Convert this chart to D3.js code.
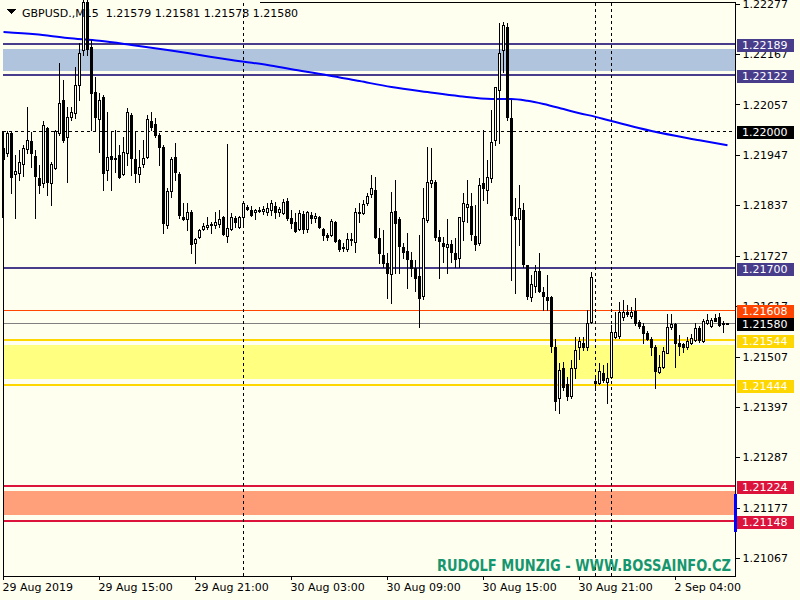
<!DOCTYPE html>
<html><head><meta charset="utf-8">
<script src="https://cdn.jsdelivr.net/npm/d3@7"></script>
<style>
html,body{margin:0;padding:0;background:#FFFFF0;}
svg{display:block;}
text{font-family:"DejaVu Sans",Verdana,sans-serif;}
</style></head><body>
<svg id="chart" width="800" height="600"></svg>
<script>
const titleSymbol = "GBPUSD.,M15";
const lastQuote = [1.21579, 1.21581, 1.21578, 1.21580];

const opens = [1.21938,1.21951,1.21994,1.21905,1.21907,1.21927,1.21959,1.21977,1.21945,1.21897,
1.21885,1.22006,1.21885,1.21919,1.21994,1.22067,1.21986,1.22030,1.22038,1.22099,
1.22176,1.22281,1.22183,1.22085,1.22025,1.22074,1.21914,1.21945,1.21941,1.21947,
1.21905,1.21951,1.22034,1.21938,1.21905,1.21927,1.21943,1.22021,1.22014,1.21990,
1.21964,1.21794,1.21868,1.21943,1.21905,1.21812,1.21807,1.21823,1.21754,1.21768,
1.21785,1.21790,1.21796,1.21794,1.21796,1.21812,1.21770,1.21785,1.21810,1.21790,
1.21812,1.21833,1.21827,1.21823,1.21827,1.21825,1.21823,1.21827,1.21835,1.21823,
1.21820,1.21846,1.21810,1.21801,1.21785,1.21818,1.21785,1.21816,1.21810,1.21812,
1.21785,1.21772,1.21772,1.21801,1.21761,1.21746,1.21741,1.21761,1.21757,1.21820,
1.21820,1.21841,1.21861,1.21870,1.21766,1.21728,1.21711,1.21687,1.21825,1.21807,
1.21746,1.21737,1.21718,1.21700,1.21683,1.21639,1.21805,1.21885,1.21888,1.21768,
1.21754,1.21746,1.21752,1.21732,1.21722,1.21803,1.21833,1.21835,1.21770,1.21754,
1.21885,1.21870,1.21897,1.21979,1.22089,1.22176,1.22226,1.22028,1.21812,1.21807,
1.21827,1.21707,1.21637,1.21661,1.21694,1.21648,1.21637,1.21637,1.21528,1.21417,
1.21482,1.21447,1.21421,1.21482,1.21528,1.21537,1.21528,1.21582,1.21454,1.21450,
1.21471,1.21452,1.21463,1.21550,1.21552,1.21593,1.21604,1.21595,1.21606,1.21582,
1.21574,1.21558,1.21545,1.21528,1.21473,1.21484,1.21515,1.21572,1.21578,1.21537,
1.21534,1.21528,1.21537,1.21543,1.21569,1.21541,1.21580,1.21574,1.21591,1.21593,
1.21580,1.21579];
const highs = [1.21966,1.21999,1.21999,1.21947,1.21958,1.21968,1.22052,1.21997,1.21958,1.21925,
1.22021,1.22008,1.21932,1.22001,1.22147,1.22110,1.22052,1.22052,1.22139,1.22191,
1.22296,1.22296,1.22198,1.22117,1.22082,1.22078,1.22041,1.21997,1.22001,1.21968,
1.21986,1.22050,1.22038,1.21997,1.21958,1.21979,1.22034,1.22041,1.22028,1.21994,
1.21968,1.21875,1.21943,1.21972,1.21910,1.21841,1.21841,1.21827,1.21766,1.21785,
1.21798,1.21812,1.21801,1.21823,1.21827,1.21814,1.21970,1.21821,1.21814,1.21814,
1.21844,1.21837,1.21835,1.21829,1.21833,1.21835,1.21841,1.21848,1.21844,1.21833,
1.21850,1.21853,1.21827,1.21820,1.21827,1.21825,1.21825,1.21823,1.21820,1.21814,
1.21788,1.21776,1.21807,1.21803,1.21763,1.21754,1.21776,1.21776,1.21831,1.21841,
1.21848,1.21863,1.21903,1.21899,1.21788,1.21783,1.21732,1.21866,1.21892,1.21812,
1.21754,1.21776,1.21735,1.21718,1.21772,1.21874,1.21964,1.21962,1.21892,1.21783,
1.21768,1.21807,1.21761,1.21766,1.21812,1.21863,1.21892,1.21863,1.21837,1.21897,
1.22001,1.21936,1.22045,1.22095,1.22235,1.22237,1.22235,1.22067,1.21853,1.21881,
1.21841,1.21707,1.21685,1.21707,1.21732,1.21659,1.21685,1.21639,1.21545,1.21493,
1.21495,1.21463,1.21499,1.21550,1.21550,1.21550,1.21608,1.21691,1.21467,1.21493,
1.21489,1.21493,1.21576,1.21604,1.21626,1.21630,1.21619,1.21615,1.21635,1.21587,
1.21580,1.21563,1.21550,1.21532,1.21510,1.21528,1.21600,1.21600,1.21580,1.21554,
1.21537,1.21550,1.21556,1.21580,1.21574,1.21589,1.21600,1.21591,1.21600,1.21602,
1.21585,1.21581];
const lows = [1.21925,1.21945,1.21863,1.21810,1.21892,1.21901,1.21951,1.21921,1.21810,1.21863,
1.21877,1.21859,1.21837,1.21917,1.21990,1.21975,1.21888,1.22023,1.22028,1.22067,
1.22165,1.22165,1.22001,1.22001,1.21954,1.21870,1.21892,1.21870,1.21910,1.21897,
1.21903,1.21925,1.21903,1.21888,1.21888,1.21921,1.21941,1.22001,1.21986,1.21925,
1.21776,1.21788,1.21855,1.21892,1.21810,1.21805,1.21783,1.21732,1.21711,1.21766,
1.21783,1.21785,1.21776,1.21788,1.21790,1.21772,1.21757,1.21783,1.21790,1.21788,
1.21792,1.21827,1.21814,1.21807,1.21823,1.21818,1.21816,1.21816,1.21810,1.21814,
1.21819,1.21805,1.21788,1.21779,1.21783,1.21776,1.21779,1.21798,1.21801,1.21788,
1.21761,1.21761,1.21770,1.21757,1.21737,1.21737,1.21737,1.21750,1.21735,1.21801,
1.21818,1.21837,1.21855,1.21766,1.21711,1.21702,1.21635,1.21624,1.21689,1.21689,
1.21722,1.21657,1.21683,1.21650,1.21572,1.21632,1.21801,1.21877,1.21761,1.21678,
1.21713,1.21689,1.21713,1.21702,1.21702,1.21761,1.21801,1.21761,1.21739,1.21750,
1.21848,1.21841,1.21888,1.21968,1.21973,1.22128,1.22023,1.21674,1.21646,1.21750,
1.21702,1.21632,1.21628,1.21648,1.21648,1.21608,1.21608,1.21517,1.21390,1.21384,
1.21434,1.21412,1.21417,1.21460,1.21502,1.21521,1.21521,1.21580,1.21434,1.21447,
1.21452,1.21406,1.21460,1.21548,1.21548,1.21587,1.21595,1.21591,1.21576,1.21569,
1.21537,1.21543,1.21510,1.21439,1.21471,1.21482,1.21515,1.21567,1.21484,1.21510,
1.21517,1.21524,1.21534,1.21541,1.21539,1.21539,1.21578,1.21572,1.21584,1.21574,
1.21561,1.21578];
const closes = [1.21962,1.21994,1.21899,1.21912,1.21932,1.21962,1.21979,1.21951,1.21901,1.21881,
1.22012,1.21888,1.21927,1.21999,1.22060,1.21979,1.22030,1.22041,1.22099,1.22169,
1.22281,1.22178,1.22082,1.22030,1.22067,1.21907,1.21943,1.21938,1.21940,1.21899,
1.21954,1.22041,1.21941,1.21907,1.21921,1.21941,1.22025,1.22008,1.21990,1.21964,
1.21798,1.21868,1.21938,1.21910,1.21816,1.21807,1.21823,1.21752,1.21763,1.21783,
1.21792,1.21794,1.21793,1.21801,1.21807,1.21774,1.21788,1.21812,1.21801,1.21812,
1.21841,1.21829,1.21816,1.21827,1.21826,1.21829,1.21831,1.21841,1.21823,1.21829,
1.21844,1.21810,1.21798,1.21781,1.21820,1.21785,1.21823,1.21810,1.21814,1.21790,
1.21772,1.21768,1.21803,1.21759,1.21741,1.21744,1.21763,1.21763,1.21823,1.21823,
1.21839,1.21857,1.21874,1.21768,1.21732,1.21711,1.21689,1.21823,1.21798,1.21748,
1.21735,1.21720,1.21700,1.21678,1.21635,1.21810,1.21888,1.21892,1.21768,1.21759,
1.21748,1.21752,1.21735,1.21720,1.21812,1.21841,1.21839,1.21774,1.21752,1.21881,
1.21874,1.21899,1.21975,1.22095,1.22169,1.22231,1.22030,1.21816,1.21807,1.21831,
1.21709,1.21639,1.21665,1.21694,1.21650,1.21639,1.21630,1.21530,1.21410,1.21478,
1.21441,1.21421,1.21482,1.21521,1.21541,1.21528,1.21580,1.21680,1.21450,1.21476,
1.21456,1.21460,1.21561,1.21561,1.21604,1.21604,1.21600,1.21604,1.21580,1.21574,
1.21558,1.21545,1.21528,1.21476,1.21484,1.21519,1.21572,1.21578,1.21537,1.21530,
1.21528,1.21541,1.21548,1.21569,1.21543,1.21584,1.21587,1.21587,1.21585,1.21576,
1.21578,1.21580];

const timeTickIndex = [0, 24, 48, 72, 96, 120, 144, 168];
const timeTickLabels = ["29 Aug 2019","29 Aug 15:00","29 Aug 21:00","30 Aug 03:00","30 Aug 09:00","30 Aug 15:00","30 Aug 21:00","2 Sep 04:00"];
const priceTicks = [1.22277,1.22167,1.22057,1.21947,1.21837,1.21727,1.21617,1.21507,1.21397,1.21287,1.21177,1.21067];
const daySeparators = [60, 148, 152];

const maIndex  = [0, 8, 16, 24, 32, 41, 49, 57, 66, 72, 81, 89, 97, 106, 114, 122, 127, 131, 135, 140, 144, 148, 151, 162, 174, 181];
const maValues = [1.22215,1.22210,1.22202,1.22196,1.22187,1.22176,1.22165,1.22154,1.22143,1.22134,1.22121,1.22108,1.22095,1.22084,1.22075,1.22069,1.22069,1.22065,1.22058,1.22047,1.22038,1.22030,1.22023,1.21999,1.21979,1.21968];

const levelPrices = [1.22189, 1.22122, 1.22000, 1.21700, 1.21608, 1.21580, 1.21544, 1.21444, 1.21224, 1.21148];
const levelKinds  = ["zone", "zone", "round", "zone", "resist", "bid", "gold", "gold", "crimson", "crimson"];
const bandTop    = [1.22177, 1.21532, 1.21213];
const bandBottom = [1.22130, 1.21458, 1.21162];
const bandKinds  = ["blue", "yellow", "salmon"];
const spreadBar = [1.21207, 1.21124];
const watermark = "RUDOLF MUNZIG - WWW.BOSSAINFO.CZ";

// ---- styles ----
const BG = "#FFFFF0";
const lineStyle = {
  zone:    {color:"#483D8B", width:2, dash:null, label:"#483D8B"},
  round:   {color:"#000000", width:1, dash:"3,3", label:"#000000"},
  resist:  {color:"#FF4500", width:1, dash:null, label:"#FF4500"},
  bid:     {color:"#808080", width:1, dash:null, label:"#000000"},
  gold:    {color:"#FFD700", width:2, dash:null, label:"#FFD700"},
  crimson: {color:"#DC143C", width:2, dash:null, label:"#DC143C"}
};
const bandColor = {blue:"#B0C4DE", yellow:"#FFFF80", salmon:"#FFA07A"};

const W = 800, H = 600;
const plotLeft = 3, plotRight = 735, plotBottom = 576;
const x = d3.scaleLinear().domain([0, 181]).range([3, 727]);
const y = d3.scaleLinear().domain([1.21028, 1.22285]).range([576, 0]);
const py = p => Math.round(y(p));

const svg = d3.select("#chart").attr("shape-rendering", "crispEdges");
svg.append("rect").attr("width", W).attr("height", H).attr("fill", BG);
svg.append("defs").append("clipPath").attr("id", "clip")
  .append("rect").attr("x", plotLeft).attr("y", 0).attr("width", plotRight - plotLeft).attr("height", plotBottom);

const plot = svg.append("g").attr("clip-path", "url(#clip)");

// bands
bandKinds.forEach((k, i) => {
  plot.append("rect").attr("x", plotLeft).attr("width", plotRight - plotLeft)
    .attr("y", py(bandTop[i])).attr("height", py(bandBottom[i]) - py(bandTop[i]))
    .attr("fill", bandColor[k]);
});

// horizontal levels
levelPrices.forEach((p, i) => {
  const s = lineStyle[levelKinds[i]];
  const yy = s.width % 2 ? py(p) + 0.5 : py(p);
  plot.append("line").attr("x1", plotLeft).attr("x2", plotRight).attr("y1", yy).attr("y2", yy)
    .attr("stroke", s.color).attr("stroke-width", s.width).attr("stroke-dasharray", s.dash);
});

// day separators
daySeparators.forEach(i => {
  plot.append("line").attr("x1", x(i) + 0.5).attr("x2", x(i) + 0.5).attr("y1", 3).attr("y2", plotBottom)
    .attr("stroke", "#000").attr("stroke-dasharray", "3,3");
});

// title
svg.append("path").attr("d", "M7,9 L16,9 L11.5,14 Z").attr("fill", "#000");
svg.append("text").attr("x", 22).attr("y", 17).attr("font-size", 11).attr("fill", "#000")
  .style("white-space", "pre")
  .text(titleSymbol + "  " + lastQuote.map(d3.format(".5f")).join(" "));

// moving average
plot.append("path").datum(maIndex.map((d, i) => [d, maValues[i]]))
  .attr("d", d3.line().x(d => x(d[0]) + 0.5).y(d => y(d[1])).curve(d3.curveMonotoneX))
  .attr("fill", "none").attr("stroke", "#0000FF").attr("stroke-width", 2)
  .attr("shape-rendering", "auto");

// candles
const candles = opens.map((o, i) => ({i, o, h: highs[i], l: lows[i], c: closes[i]}));
const cg = plot.append("g");
candles.forEach(d => {
  const cx = x(d.i) + 0.5;
  cg.append("line").attr("x1", cx).attr("x2", cx).attr("y1", py(d.h)).attr("y2", py(d.l) + 1)
    .attr("stroke", "#000");
  const top = py(Math.max(d.o, d.c)), bot = py(Math.min(d.o, d.c));
  cg.append("rect").attr("x", cx - 1).attr("width", 2)
    .attr("y", top + 0.5).attr("height", Math.max(bot - top, 1))
    .attr("fill", d.c >= d.o ? BG : "#000").attr("stroke", "#000");
});

// frame
svg.append("line").attr("x1", plotRight + 0.5).attr("x2", plotRight + 0.5).attr("y1", 2).attr("y2", plotBottom + 1).attr("stroke", "#000");
svg.append("line").attr("x1", plotLeft).attr("x2", plotRight + 1).attr("y1", plotBottom + 0.5).attr("y2", plotBottom + 0.5).attr("stroke", "#000");
svg.append("line").attr("x1", 260).attr("x2", plotRight + 1).attr("y1", 2.5).attr("y2", 2.5).attr("stroke", "#000");
svg.append("line").attr("x1", 3.5).attr("x2", 3.5).attr("y1", py(1.22000)).attr("y2", plotBottom).attr("stroke", "#000");
svg.append("line").attr("x1", 3).attr("x2", 3).attr("y1", py(1.22000)).attr("y2", py(1.21810)).attr("stroke", "#000").attr("stroke-width", 2);

// price axis
const ya = svg.append("g").attr("transform", `translate(${plotRight + 0.5},0)`)
  .call(d3.axisRight(y).tickValues(priceTicks).tickSize(4).tickPadding(3).tickFormat(d3.format(".5f")));
ya.select(".domain").remove();
ya.selectAll("text").attr("font-size", 11).attr("font-family", "DejaVu Sans").attr("fill", "#000");
ya.selectAll("line").attr("stroke", "#000");

// time axis
const xa = svg.append("g").attr("transform", `translate(0,${plotBottom})`)
  .call(d3.axisBottom(x).tickValues(timeTickIndex).tickSize(4).tickPadding(3).tickFormat((d, i) => timeTickLabels[i]));
xa.select(".domain").remove();
xa.selectAll("text").attr("font-size", 11).attr("font-family", "DejaVu Sans").attr("fill", "#000")
  .attr("text-anchor", "start").attr("dx", -1);
xa.selectAll("line").attr("stroke", "#000");

// level labels
levelPrices.forEach((p, i) => {
  const s = lineStyle[levelKinds[i]];
  const yy = py(p);
  svg.append("rect").attr("x", 737).attr("y", yy - 5).attr("width", 57).attr("height", 13).attr("fill", s.label);
  svg.append("text").attr("x", 742).attr("y", yy + 1.5).attr("dominant-baseline", "central")
    .attr("font-size", 11).attr("fill", "#fff").text(d3.format(".5f")(p));
});

// spread bar
svg.append("rect").attr("x", 734).attr("width", 3).attr("y", py(spreadBar[0])).attr("height", py(spreadBar[1]) - py(spreadBar[0]))
  .attr("fill", "#0000FF");

// watermark
svg.append("text").attr("x", 437).attr("y", 571).attr("font-size", 16).attr("font-weight", "bold")
  .attr("font-family", "'Liberation Sans Narrow','Liberation Sans',Arial,sans-serif")
  .attr("fill", "#16966F").attr("textLength", 294).attr("lengthAdjust", "spacingAndGlyphs")
  .text(watermark);
</script>
</body></html>
